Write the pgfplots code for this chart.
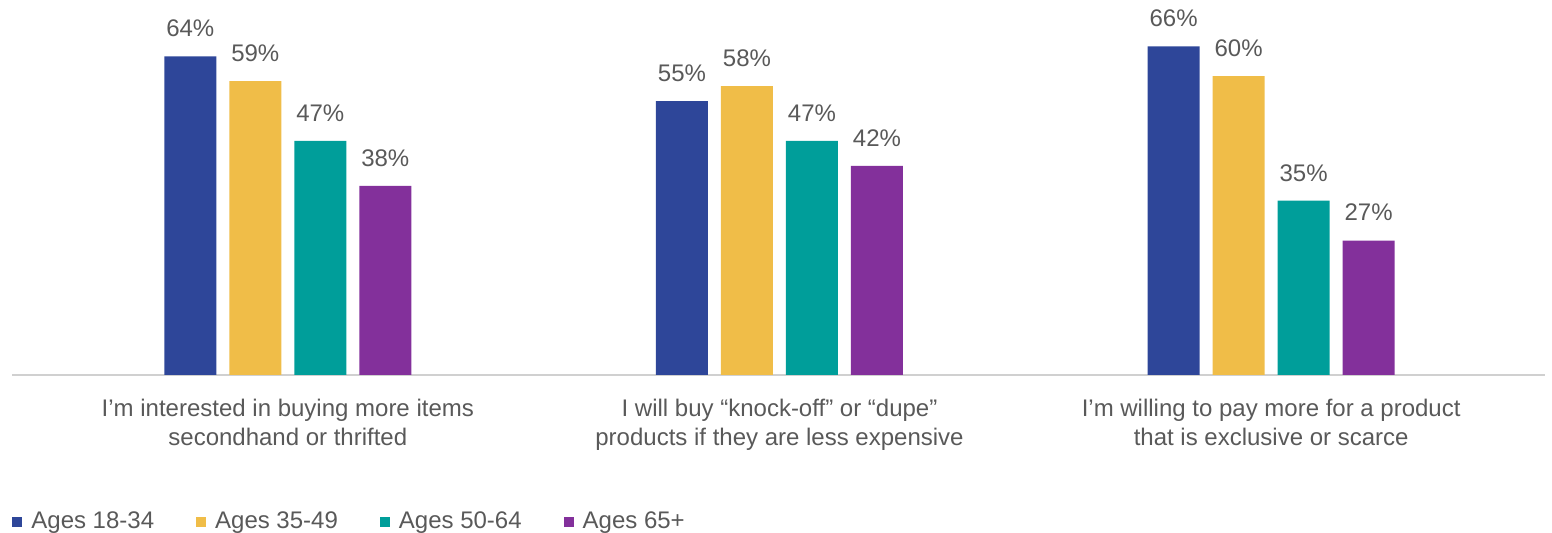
\documentclass[border=0pt]{standalone}
\usepackage{fontspec}
\setmainfont{Liberation Sans}
\usepackage{pgfplots}
\pgfplotsset{compat=1.18}
\definecolor{cA}{HTML}{2E4699}
\definecolor{cB}{HTML}{F0BD48}
\definecolor{cC}{HTML}{009E9A}
\definecolor{cD}{HTML}{83309B}
\definecolor{txt}{HTML}{595959}
\definecolor{axl}{HTML}{D0D0D0}
\begin{document}
\begin{tikzpicture}
\useasboundingbox (0,0) rectangle (776pt,266.5pt);
\begin{axis}[
  at={(6pt,79pt)}, anchor=south west,
  scale only axis, width=766.5pt, height=186.75pt,
  xmin=-0.561, xmax=2.557, ymin=0, ymax=75,
  enlargelimits=false, clip=false,
  /pgf/number format/assume math mode=true,
  ybar, bar width=26pt,
  axis x line*=bottom, axis y line=none,
  x axis line style={axl, line width=0.75pt, -},
  xtick={0,1,2}, major tick length=0pt,
  xticklabels={{I’m interested in buying more items\\secondhand or thrifted},
               {I will buy “knock-off” or “dupe”\\products if they are less expensive},
               {I’m willing to pay more for a product\\that is exclusive or scarce}},
  xticklabel style={font=\fontsize{12}{14.5}\selectfont, text=txt, align=center, inner sep=0pt, yshift=-12pt},
  nodes near coords={\pgfmathprintnumber{\pgfplotspointmeta}\%},
  nodes near coords style={font=\fontsize{12}{14.5}\selectfont, text=txt, inner sep=0pt, anchor=south, yshift=9.5pt},
  legend image code/.code={\path[#1] (0pt,-2.5pt) rectangle (5pt,2.5pt);},
  legend columns=4,
  legend style={draw=none, fill=none, at={(axis description cs:0,0)}, anchor=west, yshift=-73.5pt,
    font=\fontsize{12}{14.5}\selectfont, text=txt, inner sep=0pt, nodes={inner sep=0pt},
    /tikz/every odd column/.append style={column sep=4.5pt},
    /tikz/every even column/.append style={column sep=21pt}},
]
\addplot[draw=none, fill=cA, bar shift=-48.75pt] coordinates {(0,64) (1,55) (2,66)};
\addplot[draw=none, fill=cB, bar shift=-16.25pt] coordinates {(0,59) (1,58) (2,60)};
\addplot[draw=none, fill=cC, bar shift=16.25pt] coordinates {(0,47) (1,47) (2,35)};
\addplot[draw=none, fill=cD, bar shift=48.75pt] coordinates {(0,38) (1,42) (2,27)};
\legend{Ages 18-34, Ages 35-49, Ages 50-64, Ages 65+}
\end{axis}
\end{tikzpicture}
\end{document}
